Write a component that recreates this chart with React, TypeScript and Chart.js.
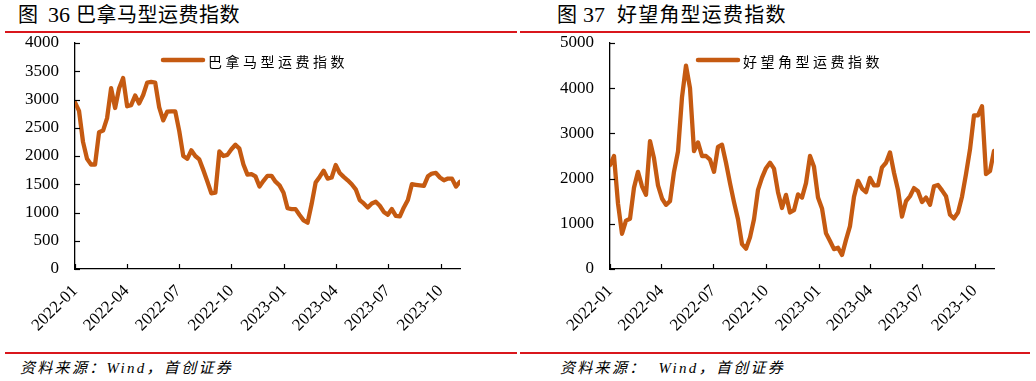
import React, { useEffect, useRef } from 'react';
import { Chart, registerables } from 'chart.js';

Chart.register(...registerables);

// Weekly observations, first week starting 2022-01-01
const panamaxValues = [
  2950, 2800, 2250, 1950, 1850, 1850, 2420, 2450, 2670, 3200,
  2850, 3200, 3380, 2880, 2900, 3070, 2930, 3080, 3300, 3310,
  3300, 2860, 2630, 2785, 2790, 2790, 2440, 2000, 1950, 2100,
  2000, 1940, 1750, 1550, 1340, 1350, 2080, 2000, 2020, 2120,
  2200, 2130, 1850, 1670, 1680, 1640, 1460, 1560, 1650, 1650,
  1545, 1480, 1350, 1075, 1060, 1060, 955, 860, 820, 1150,
  1530, 1630, 1740, 1600, 1620, 1840, 1700, 1630, 1570, 1500,
  1410, 1220, 1160, 1090, 1160, 1190, 1120, 1010, 960, 1060,
  940, 930, 1090, 1220, 1500, 1490, 1480, 1470, 1640, 1690,
  1700, 1620, 1570, 1600, 1600, 1460, 1545,
];

const capesizeValues = [
  2300, 2500, 1450, 780, 1070, 1110, 1800, 2150, 1830, 1640,
  2830, 2450, 1850, 1560, 1420, 1500, 2150, 2600, 3800, 4500,
  4000, 2610, 2800, 2500, 2500, 2420, 2150, 2700, 2750, 2350,
  1900, 1480, 1100, 550, 450, 700, 1100, 1750, 2020, 2230,
  2350, 2220, 1700, 1350, 1640, 1250, 1300, 1650, 1580, 1900,
  2500, 2260, 1580, 1340, 790, 620, 440, 470, 310, 645,
  950, 1600, 1950, 1780, 1700, 2015, 1850, 1850, 2250, 2350,
  2580, 2130, 1750, 1160, 1500, 1610, 1790, 1720, 1480, 1580,
  1420, 1830, 1860, 1740, 1610, 1200, 1120, 1250, 1600, 2100,
  2645, 3400, 3400, 3600, 2100, 2165, 2610,
];

const tickLabels = ['2022-01', '2022-04', '2022-07', '2022-10', '2023-01', '2023-04', '2023-07', '2023-10'];

const START_MS = Date.UTC(2022, 0, 1);
const DAY_MS = 86400000;
const tickDays = tickLabels.map((s) => {
  const [y, m] = s.split('-').map(Number);
  return Math.round((Date.UTC(y, m - 1, 1) - START_MS) / DAY_MS);
});
const dayOfWeekIndex = (i: number) => i * 7;

const LINE_COLOR = '#C55A11';
const SERIF = '"Liberation Serif", "Times New Roman", serif';
const CJK = '"Noto Sans CJK SC", "Noto Sans", sans-serif';

const inwardTicks = {
  id: 'inwardTicks',
  afterDraw(chart: any) {
    const { ctx, chartArea, scales } = chart;
    const x = scales.x;
    const y = scales.y;
    ctx.save();
    ctx.strokeStyle = '#000';
    ctx.lineWidth = 1.2;
    x.ticks.forEach((t: any) => {
      const px = Math.round(x.getPixelForValue(t.value)) + 0.5;
      ctx.beginPath();
      ctx.moveTo(px, chartArea.bottom);
      ctx.lineTo(px, chartArea.bottom - 5);
      ctx.stroke();
    });
    y.ticks.forEach((t: any) => {
      const py = Math.round(y.getPixelForValue(t.value)) + 0.5;
      ctx.beginPath();
      ctx.moveTo(chartArea.left, py);
      ctx.lineTo(chartArea.left + 5, py);
      ctx.stroke();
    });
    ctx.restore();
  },
};

const innerLegend = {
  id: 'innerLegend',
  afterDraw(chart: any) {
    const { ctx, chartArea } = chart;
    const ds = chart.data.datasets[0];
    const x0 = chartArea.left + 88;
    const yy = chartArea.top + 17;
    ctx.save();
    ctx.strokeStyle = ds.borderColor;
    ctx.lineWidth = 4.5;
    ctx.lineCap = 'round';
    ctx.beginPath();
    ctx.moveTo(x0, yy);
    ctx.lineTo(x0 + 40, yy);
    ctx.stroke();
    ctx.fillStyle = '#000';
    ctx.font = '14px ' + CJK;
    (ctx as any).letterSpacing = '3.5px';
    ctx.textBaseline = 'middle';
    ctx.textAlign = 'left';
    ctx.fillText(ds.label, x0 + 45, yy + 1.5);
    ctx.restore();
  },
};

type PanelProps = {
  values: number[];
  label: string;
  yMax: number;
  yStep: number;
  yWidth: number;
  padRight: number;
};

function LineChart({ values, label, yMax, yStep, yWidth, padRight }: PanelProps) {
  const ref = useRef<HTMLCanvasElement>(null);
  useEffect(() => {
    const canvas = ref.current;
    if (!canvas) return;
    const points = values.map((v, i) => ({ x: dayOfWeekIndex(i), y: v }));
    const lastDay = dayOfWeekIndex(values.length - 1);
    const chart = new Chart(canvas, {
      type: 'line',
      data: {
        datasets: [
          {
            label,
            data: points,
            borderColor: LINE_COLOR,
            backgroundColor: LINE_COLOR,
            borderWidth: 4.3,
            pointRadius: 0,
            tension: 0,
            borderJoinStyle: 'round',
            borderCapStyle: 'round',
          } as any,
        ],
      },
      options: {
        animation: false,
        responsive: false,
        maintainAspectRatio: false,
        layout: { padding: { top: 10, right: padRight, left: 0, bottom: 0 }, autoPadding: false },
        plugins: { legend: { display: false }, tooltip: { enabled: false } },
        scales: {
          x: {
            type: 'linear',
            min: 0,
            max: lastDay,
            afterBuildTicks: (scale: any) => {
              scale.ticks = tickDays.map((d) => ({ value: d }));
            },
            afterFit: (scale: any) => {
              scale.height = 74;
              scale.paddingLeft = 0;
              scale.paddingRight = 0;
            },
            grid: { display: false, drawTicks: false, tickLength: 0 },
            border: { display: true, color: '#000', width: 1.3 },
            ticks: {
              autoSkip: false,
              maxRotation: 45,
              minRotation: 45,
              padding: 12,
              color: '#000',
              font: { family: SERIF, size: 17 },
              callback: (v: any) => {
                const idx = tickDays.indexOf(Number(v));
                return idx >= 0 ? tickLabels[idx] : '';
              },
            },
          },
          y: {
            min: 0,
            max: yMax,
            afterFit: (scale: any) => {
              scale.width = yWidth;
              scale.paddingTop = 0;
              scale.paddingBottom = 0;
            },
            grid: { display: false, drawTicks: false, tickLength: 0 },
            border: { display: true, color: '#000', width: 1.3 },
            ticks: {
              stepSize: yStep,
              padding: 16,
              color: '#000',
              font: { family: SERIF, size: 17 },
              callback: (v: any) => String(v),
            },
          },
        },
      },
      plugins: [inwardTicks, innerLegend],
    });
    return () => chart.destroy();
  }, [values, label, yMax, yStep, yWidth, padRight]);
  return <canvas ref={ref} width={518} height={310} style={{ width: 518, height: 310, display: 'block' }} />;
}

const redLine = (left: number, top: number, width: number) => (
  <div style={{ position: 'absolute', left, top, width, height: 2, background: '#D9161C' }} />
);

export default function App() {
  const titleBase: React.CSSProperties = {
    position: 'absolute',
    top: 1,
    fontFamily: CJK,
    fontSize: 20,
    lineHeight: '26px',
    color: '#000',
    whiteSpace: 'pre',
  };
  const sourceBase: React.CSSProperties = {
    position: 'absolute',
    top: 358,
    fontFamily: SERIF + ', ' + CJK,
    fontStyle: 'italic',
    fontSize: 15,
    lineHeight: '20px',
    letterSpacing: 2.3,
    color: '#000',
    whiteSpace: 'pre',
  };
  return (
    <div style={{ position: 'absolute', left: 0, top: 0, width: 1036, height: 381, background: '#fff', overflow: 'hidden' }}>
      <div style={{ ...titleBase, left: 18 }}>
        <span>图</span>
        <span style={{ fontFamily: SERIF, fontSize: 22, marginLeft: 10 }}>36</span>
        <span style={{ marginLeft: 6, letterSpacing: 0.5 }}>巴拿马型运费指数</span>
      </div>
      <div style={{ ...titleBase, left: 557 }}>
        <span>图</span>
        <span style={{ fontFamily: SERIF, fontSize: 22, marginLeft: 6 }}>37</span>
        <span style={{ marginLeft: 12, letterSpacing: 1.2 }}>好望角型运费指数</span>
      </div>
      {redLine(5, 31, 512)}
      {redLine(520, 31, 510)}
      <div style={{ position: 'absolute', left: 0, top: 33 }}>
        <LineChart values={panamaxValues} label="巴拿马型运费指数" yMax={4000} yStep={500} yWidth={75} padRight={58} />
      </div>
      <div style={{ position: 'absolute', left: 518, top: 33 }}>
        <LineChart values={capesizeValues} label="好望角型运费指数" yMax={5000} yStep={1000} yWidth={92} padRight={42} />
      </div>
      {redLine(5, 352, 512)}
      {redLine(520, 352, 510)}
      <div style={{ ...sourceBase, left: 20 }}>资料来源：Wind，首创证券</div>
      <div style={{ ...sourceBase, left: 560 }}>资料来源：  Wind，首创证券</div>
    </div>
  );
}
